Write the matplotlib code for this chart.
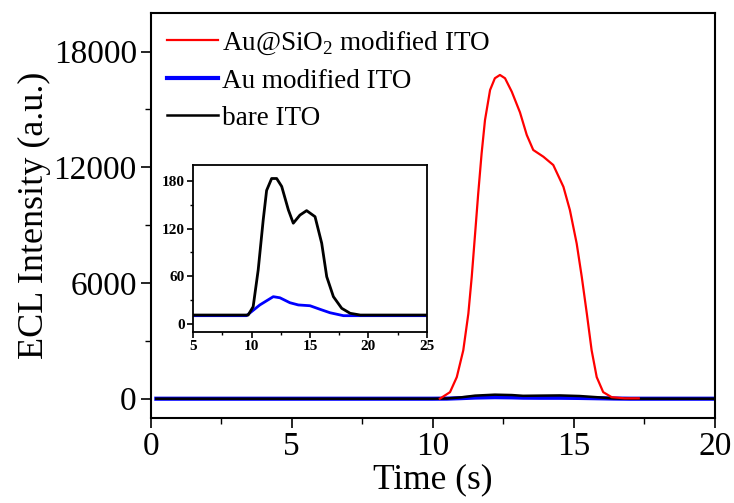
import numpy as np
import matplotlib
matplotlib.use("Agg")
import matplotlib.pyplot as plt
from matplotlib.ticker import MultipleLocator

plt.rcParams['font.family'] = ['Liberation Serif', 'DejaVu Serif']
plt.rcParams['mathtext.fontset'] = 'custom'
plt.rcParams['mathtext.rm'] = 'Liberation Serif'

# main panel: Au@SiO2 modified ITO (red)
t_red = [10.25, 10.61, 10.85, 11.08, 11.26, 11.38, 11.5, 11.61, 11.73, 11.85, 12.03,
         12.2, 12.38, 12.56, 12.8, 13.09, 13.33, 13.56, 13.92, 14.27, 14.63, 14.86,
         15.1, 15.28, 15.46, 15.63, 15.81, 16.04, 16.34, 16.8, 17.3]
i_red = [0, 340, 1120, 2510, 4410, 6320, 8570, 10650, 12720, 14450, 16010,
         16620, 16790, 16620, 15920, 14850, 13680, 12900, 12550, 12120, 10990, 9780,
         8050, 6320, 4410, 2510, 1120, 340, 80, 20, 20]

# main panel: Au modified ITO (blue) and bare ITO (black)
t_main = [0.2, 5.0, 10.0, 10.5, 11.0, 11.5, 12.2, 12.8, 13.2, 13.8, 14.5, 15.2, 15.8, 16.4, 17.0, 20.0]
i_au = [0, 0, 0, 5, 30, 60, 80, 70, 55, 50, 50, 40, 25, 10, 0, 0]
i_bare = [0, 0, 0, 10, 70, 160, 210, 190, 150, 160, 170, 140, 80, 15, 0, 0]

# inset: bare ITO (black) and Au modified ITO (blue)
t_in_bare = [5.0, 9.71, 10.14, 10.57, 11.0, 11.29, 11.72, 12.15, 12.58, 13.15, 13.57, 14.14,
             14.71, 15.43, 16.0, 16.43, 17.0, 17.71, 18.43, 19.3, 25.0]
i_in_bare = [11.3, 11.3, 21.8, 68, 131, 168, 183, 183, 173, 143.5, 126.8, 137,
             142.6, 135, 101.6, 59.5, 34.4, 19.8, 13.5, 11.3, 11.3]
t_in_au = [5.0, 9.57, 10.71, 11.86, 12.43, 13.28, 14.0, 15.0, 15.86, 16.71, 17.86, 25.0]
i_in_au = [10.5, 10.5, 24, 34.4, 33, 26.8, 24, 23, 18.5, 14.2, 10.5, 10.5]

fig = plt.figure(figsize=(7.34, 5.03), dpi=100)
ax = fig.add_axes([0.2053, 0.169, 0.7687, 0.805])

ax.plot(t_main, i_au, color='blue', lw=3.0, label='Au modified ITO', zorder=2)
ax.plot(t_main, i_bare, color='black', lw=1.8, label='bare ITO', zorder=3)
ax.plot(t_red, i_red, color='red', lw=1.6, label=r'Au@SiO$_2$ modified ITO', zorder=4)

ax.set_xlim(0, 20)
ax.set_ylim(-1000, 20000)
ax.set_xticks([0, 5, 10, 15, 20])
ax.set_yticks([0, 6000, 12000, 18000])
ax.xaxis.set_minor_locator(MultipleLocator(2.5))
ax.yaxis.set_minor_locator(MultipleLocator(3000))
ax.tick_params(which='major', direction='out', length=7, width=1.2, labelsize=24, right=False, top=False, pad=3)
ax.tick_params(which='minor', direction='out', length=4, width=1.0)
for s in ax.spines.values():
    s.set_linewidth(1.5)
ax.set_xlabel('Time (s)', fontsize=25.5, labelpad=1)
ax.set_ylabel('ECL Intensity (a.u.)', fontsize=26, labelpad=2)

h, l = ax.get_legend_handles_labels()
order = [2, 0, 1]
ax.legend([h[k] for k in order], [l[k] for k in order], loc='upper left', frameon=False,
          fontsize=19.5, handlelength=1.9, handletextpad=0.15, labelspacing=0.45,
          borderaxespad=0.1, borderpad=0.5, bbox_to_anchor=(0.0, 1.0))

# inset
ins = fig.add_axes([0.263, 0.340, 0.3187, 0.332])
ins.plot(t_in_au, i_in_au, color='blue', lw=2.0)
ins.plot(t_in_bare, i_in_bare, color='black', lw=2.0)
ins.set_xlim(5, 25)
ins.set_ylim(-10, 200)
ins.set_xticks([5, 10, 15, 20, 25])
ins.set_yticks([0, 60, 120, 180])
ins.xaxis.set_minor_locator(MultipleLocator(2.5))
ins.yaxis.set_minor_locator(MultipleLocator(30))
ins.tick_params(which='major', direction='out', length=4, width=1.2, labelsize=11, pad=2)
ins.tick_params(which='minor', direction='out', length=2, width=1.0)
for lab in ins.get_xticklabels() + ins.get_yticklabels():
    lab.set_fontweight('bold')
for s in ins.spines.values():
    s.set_linewidth(1.3)

fig.savefig('out.png', dpi=100)
